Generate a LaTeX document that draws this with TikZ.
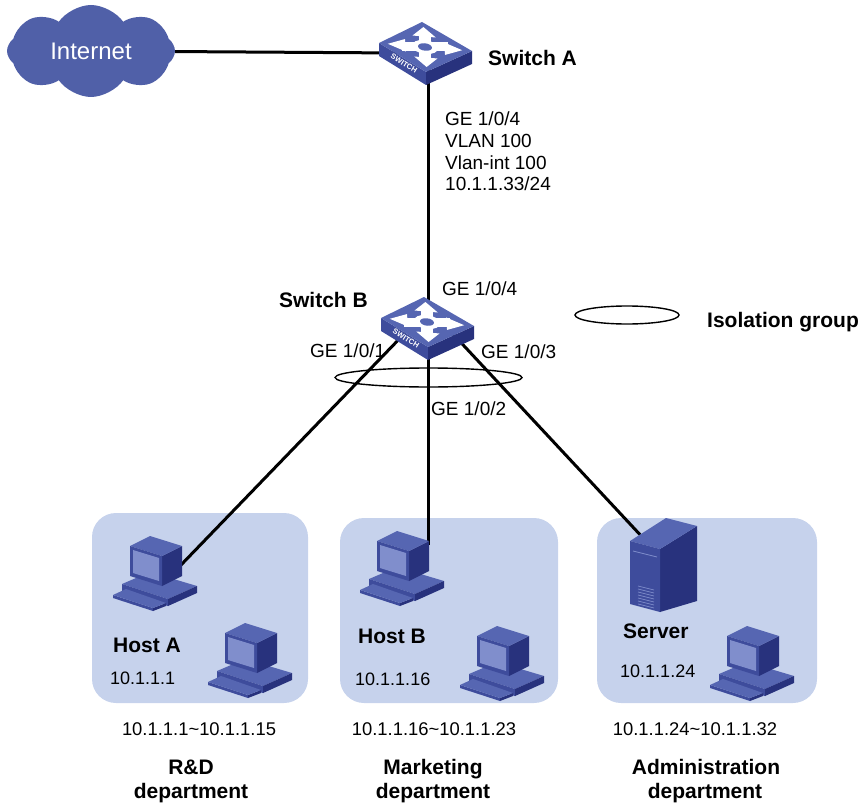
\documentclass[tikz,border=0pt]{standalone}
\usepackage{fontspec}
\setmainfont{Liberation Sans}
\usetikzlibrary{shapes.symbols}

\definecolor{cloudblue}{RGB}{80,96,168}
\definecolor{grpfill}{RGB}{198,210,236}
\definecolor{devtop}{RGB}{86,102,178}
\definecolor{devfront}{RGB}{62,76,156}
\definecolor{devside}{RGB}{40,50,125}
\definecolor{devscreen}{RGB}{128,142,204}

\tikzset{
  conn/.style={line width=3pt, black},
  isolring/.style={line width=1.4pt, black},
  lbl/.style={inner sep=0pt, font=\fontsize{19}{23}\selectfont},
  iplbl/.style={inner sep=0pt, font=\fontsize{18}{22}\selectfont},
  boldlbl/.style={inner sep=0pt, font=\bfseries\fontsize{21}{25}\selectfont},
  rangelbl/.style={inner sep=0pt, font=\fontsize{18.4}{22}\selectfont},
  deptlbl/.style={inner sep=0pt, font=\bfseries\fontsize{21}{25}\selectfont},
  grpbox/.style={fill=grpfill, rounded corners=24pt},
  % isometric switch, origin at the centre of its top face
  switchicon/.pic={
    \fill[devfront] (-46,-4) -- (1,25) -- (1,38) -- (-46,9) -- cycle;
    \fill[devside] (1,25) -- (47,4) -- (47,17) -- (1,38) -- cycle;
    \fill[devtop] (-46,-4) -- (-3,-25) -- (47,4) -- (1,25) -- cycle;
    \node[text=white, inner sep=0pt, font=\bfseries\fontsize{7.5}{8}\selectfont, rotate=-32] at (-21,16.5) {SWITCH};
    \begin{scope}[x={(46.5pt,-4pt)}, y={(2pt,-25pt)}]
      \fill[white] (-0.5,-0.1) rectangle (0.5,0.1);
      \fill[white] (-0.1,-0.5) rectangle (0.1,0.5);
      \fill[white] (0.42,-0.25) -- (0.8,0) -- (0.42,0.25) -- cycle;
      \fill[white] (-0.42,-0.25) -- (-0.8,0) -- (-0.42,0.25) -- cycle;
      \fill[white] (-0.25,0.42) -- (0,0.8) -- (0.25,0.42) -- cycle;
      \fill[white] (-0.25,-0.42) -- (0,-0.8) -- (0.25,-0.42) -- cycle;
      \fill[white] (0,0) circle (0.28);
      \fill[devtop] (0,0) circle (0.15);
    \end{scope}
  },
  % desktop computer, origin at the top left of its box
  pcicon/.pic={
    % base unit
    \fill[devtop] (12,55) -- (40,43) -- (87,57) -- (58,70) -- cycle;
    \fill[devfront] (12,55) -- (58,70) -- (58,77) -- (12,62) -- cycle;
    \fill[devside] (58,70) -- (87,57) -- (87,64) -- (58,77) -- cycle;
    % keyboard
    \fill[devfront] (3,66) -- (43,79) -- (43,82) -- (3,69) -- cycle;
    \fill[devside] (43,79) -- (56,74) -- (56,77) -- (43,82) -- cycle;
    \fill[devtop] (3,66) -- (16,60) -- (56,74) -- (43,79) -- cycle;
    % monitor
    \fill[devside] (52,27) -- (72,17) -- (72,47) -- (52,57) -- cycle;
    \fill[devtop] (20,17) -- (40,7) -- (72,17) -- (52,27) -- cycle;
    \fill[devfront] (20,17) -- (52,27) -- (52,57) -- (20,47) -- cycle;
    \fill[devscreen] (23,21) -- (49,29) -- (49,52) -- (23,44) -- cycle;
  },
  % tower server, origin at the top left of its box
  servericon/.pic={
    \fill[devside] (30,31) -- (67,8) -- (67,83) -- (30,94) -- cycle;
    \fill[devtop] (0,23) -- (36,0) -- (67,8) -- (30,31) -- cycle;
    \fill[devfront] (0,23) -- (30,31) -- (30,94) -- (0,86) -- cycle;
    \draw[devscreen, line width=0.8pt] (3,33) -- (27,39);
    \foreach \v in {68,71,...,86} \draw[devscreen, line width=0.7pt] (8,\v) -- (24,\v+4);
  }
}

\begin{document}
\begin{tikzpicture}[x=1pt, y=-1pt]
\useasboundingbox (0,0) rectangle (861,805);

% department areas
\fill[grpbox] (92,513) rectangle (308,703);
\fill[grpbox] (340,518) rectangle (558,703);
\fill[grpbox] (597,518) rectangle (817,703);

% device anchor points
\coordinate (swA) at (425,47);
\coordinate (swB) at (427,322);
\coordinate (swA-w) at (400,53);
\coordinate (swA-s) at (428,60);
\coordinate (swB-n) at (428,320);
\coordinate (swB-l) at (405,333);
\coordinate (swB-b) at (428,350);
\coordinate (swB-r) at (452,333);
\coordinate (hostA-port) at (180,566);
\coordinate (hostB-port) at (428,545);
\coordinate (server-port) at (645,540);

% Internet
\node[cloud, cloud puffs=8, cloud puff arc=110, aspect=1.9, fill=cloudblue, minimum width=168, minimum height=92,
      text=white, font=\fontsize{24}{28}\selectfont] (inet) at (91,51) {Internet};

% links
\draw[conn] (inet) -- (swA-w);
\draw[conn] (swA-s) -- (swB-n);
\draw[conn] (swB-l) -- (hostA-port);
\draw[conn] (swB-b) -- (hostB-port);
\draw[conn] (swB-r) -- (server-port);

% devices
\pic at (swA) {switchicon};
\pic at (swB) {switchicon};
\pic at (110,529) {pcicon};
\pic at (205,616) {pcicon};
\pic at (357,524) {pcicon};
\pic at (457,619) {pcicon};
\pic at (630,518) {servericon};
\pic at (707,619) {pcicon};

% isolation group ring and legend
\draw[isolring] (428.5,377.5) ellipse [x radius=93.5, y radius=9.5];
\draw[isolring] (627,315) ellipse [x radius=52, y radius=9];
\node[boldlbl, anchor=base west] (legend) at (707,327) {Isolation group};

% switch labels
\node[boldlbl, anchor=base west] (swA-name) at (488,66) {Switch A};
\node[lbl, anchor=base west] (a-if) at (445,126) {GE 1/0/4};
\node[lbl, anchor=base west] (a-vlan) at (445,148) {VLAN 100};
\node[lbl, anchor=base west] (a-vif) at (445,169) {Vlan-int 100};
\node[lbl, anchor=base west] (a-ip) at (445,190) {10.1.1.33/24};

\node[boldlbl, anchor=base east] (swB-name) at (368,307) {Switch B};
\node[lbl, anchor=base west] (b-p4) at (442,295) {GE 1/0/4};
\node[lbl, anchor=base west] (b-p1) at (310,357) {GE 1/0/1};
\node[lbl, anchor=base west] (b-p3) at (481,358) {GE 1/0/3};
\node[lbl, anchor=base west] (b-p2) at (431,415) {GE 1/0/2};

% host labels
\node[boldlbl, anchor=base west] (hostA) at (113,652) {Host A};
\node[iplbl, anchor=base west] (hostA-ip) at (110,684) {10.1.1.1};
\node[boldlbl, anchor=base west] (hostB) at (358,643) {Host B};
\node[iplbl, anchor=base west] (hostB-ip) at (355,685) {10.1.1.16};
\node[boldlbl, anchor=base west] (server) at (623,638) {Server};
\node[iplbl, anchor=base west] (server-ip) at (620,677) {10.1.1.24};

% address ranges
\node[rangelbl, anchor=base] (rngA) at (199,735) {10.1.1.1\textasciitilde10.1.1.15};
\node[rangelbl, anchor=base] (rngB) at (434,735) {10.1.1.16\textasciitilde10.1.1.23};
\node[rangelbl, anchor=base] (rngC) at (695,735) {10.1.1.24\textasciitilde10.1.1.32};

% departments
\node[deptlbl, anchor=base] (deptA1) at (191,774) {R\&D};
\node[deptlbl, anchor=base] (deptA2) at (191,798) {department};
\node[deptlbl, anchor=base] (deptB1) at (433,774) {Marketing};
\node[deptlbl, anchor=base] (deptB2) at (433,798) {department};
\node[deptlbl, anchor=base] (deptC1) at (706,774) {Administration};
\node[deptlbl, anchor=base] (deptC2) at (705,798) {department};
\end{tikzpicture}
\end{document}
